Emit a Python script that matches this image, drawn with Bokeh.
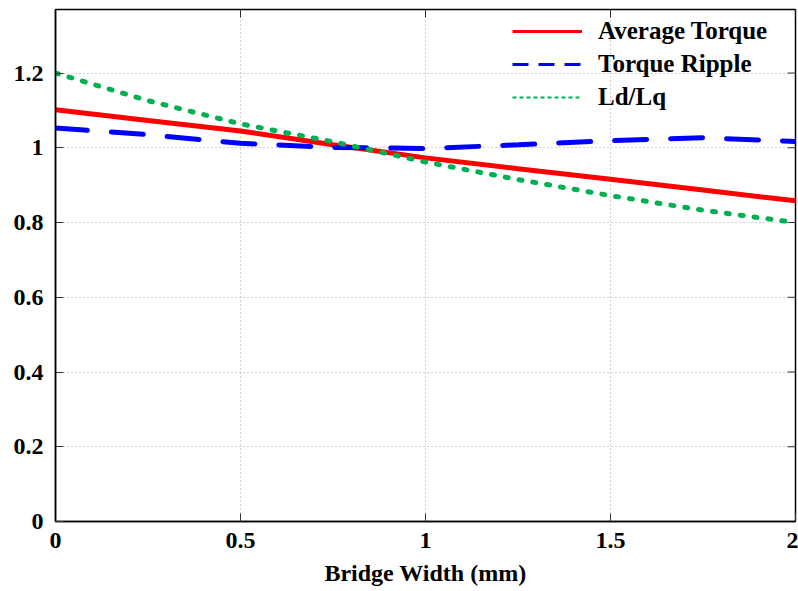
import math
from bokeh.plotting import figure
from bokeh.models import Range1d, FixedTicker, Legend, LegendItem, CustomJSTickFormatter
from bokeh.embed import file_html
from bokeh.resources import INLINE

# Bridge width sweep (mm) and normalised machine quantities
bridge_width = [0.0, 0.25, 0.5, 0.75, 1.0, 1.25, 1.5, 1.75, 2.0]
average_torque = [1.102, 1.073, 1.045, 1.008, 0.973, 0.944, 0.916, 0.887, 0.858]
torque_ripple = [1.053, 1.035, 1.012, 1.001, 0.998, 1.008, 1.019, 1.027, 1.017]
ld_lq = [1.200, 1.126, 1.064, 1.016, 0.962, 0.915, 0.872, 0.833, 0.800]

x_ticks = [0, 0.5, 1, 1.5, 2]
y_ticks = [0, 0.2, 0.4, 0.6, 0.8, 1.0, 1.2]
X_MAX = 2.0
Y_MAX = 1.37

FONT = "Liberation Serif"
RED = "#ff0000"
BLUE = "#0000ff"
GREEN = "#00b050"

p = figure(width=798, height=591, output_backend="svg", toolbar_location=None,
           x_range=Range1d(0, X_MAX), y_range=Range1d(0, Y_MAX),
           min_border_left=55, min_border_right=3, min_border_top=9, min_border_bottom=70)

p.outline_line_color = "black"
p.outline_line_width = 1.5
p.background_fill_color = "white"
p.border_fill_color = "white"

fmt = CustomJSTickFormatter(code="return String(Math.round(tick * 10) / 10);")

p.xaxis.ticker = FixedTicker(ticks=x_ticks)
p.yaxis.ticker = FixedTicker(ticks=y_ticks)
for ax in list(p.xaxis) + list(p.yaxis):
    ax.major_tick_in = 8
    ax.major_tick_out = 0
    ax.minor_tick_in = 0
    ax.minor_tick_out = 0
    ax.major_tick_line_color = "#333333"
    ax.axis_line_color = "black"
    ax.axis_line_width = 1.5
    ax.major_label_text_font = FONT
    ax.major_label_text_font_style = "bold"
    ax.major_label_text_font_size = "24px"
    ax.major_label_text_color = "black"
    ax.formatter = fmt

p.xaxis.major_label_standoff = 11
p.yaxis.major_label_standoff = 12

p.xaxis.axis_label = "Bridge Width (mm)"
p.xaxis.axis_label_text_font = FONT
p.xaxis.axis_label_text_font_style = "bold"
p.xaxis.axis_label_text_font_size = "24px"
p.xaxis.axis_label_text_color = "black"
p.xaxis.axis_label_standoff = 9

p.xgrid.ticker = FixedTicker(ticks=x_ticks)
p.ygrid.ticker = FixedTicker(ticks=y_ticks)
for g in (p.xgrid[0], p.ygrid[0]):
    g.grid_line_color = "#a0a0a0"
    g.grid_line_dash = "1 3"
    g.grid_line_width = 1

# Inward tick marks mirrored on the top and right frame edges
p.ray(x=x_ticks, y=[Y_MAX] * len(x_ticks), length=8, length_units="screen",
      angle=-math.pi / 2, line_color="#333333", line_width=1)
p.ray(x=[X_MAX] * len(y_ticks), y=y_ticks, length=8, length_units="screen",
      angle=math.pi, line_color="#333333", line_width=1)

r_avg = p.line(bridge_width, average_torque, line_color=RED, line_width=5)
r_rip = p.line(bridge_width, torque_ripple, line_color=BLUE, line_width=5,
               line_dash="32 24", line_cap="round")
r_ld = p.line(bridge_width, ld_lq, line_color=GREEN, line_width=5,
              line_dash="3 11", line_cap="round")

# Legend swatches drawn with lighter strokes (no visible data)
nan = [float("nan")]
k_avg = p.line(nan, nan, line_color=RED, line_width=3)
k_rip = p.line(nan, nan, line_color=BLUE, line_width=3, line_dash="16 10")
k_ld = p.line(nan, nan, line_color=GREEN, line_width=2, line_dash="4 3")

legend = Legend(items=[
    LegendItem(label="Average Torque", renderers=[k_avg]),
    LegendItem(label="Torque Ripple", renderers=[k_rip]),
    LegendItem(label="Ld/Lq", renderers=[k_ld]),
], location=(457, 410))
legend.background_fill_alpha = 0
legend.border_line_alpha = 0
legend.padding = 0
legend.margin = 0
legend.glyph_width = 70
legend.glyph_height = 20
legend.label_height = 20
legend.spacing = 5
legend.label_standoff = 16
legend.label_text_font = FONT
legend.label_text_font_style = "bold"
legend.label_text_font_size = "25px"
legend.label_text_color = "black"
p.add_layout(legend, "center")

open("out.html", "w").write(file_html(p, INLINE))
